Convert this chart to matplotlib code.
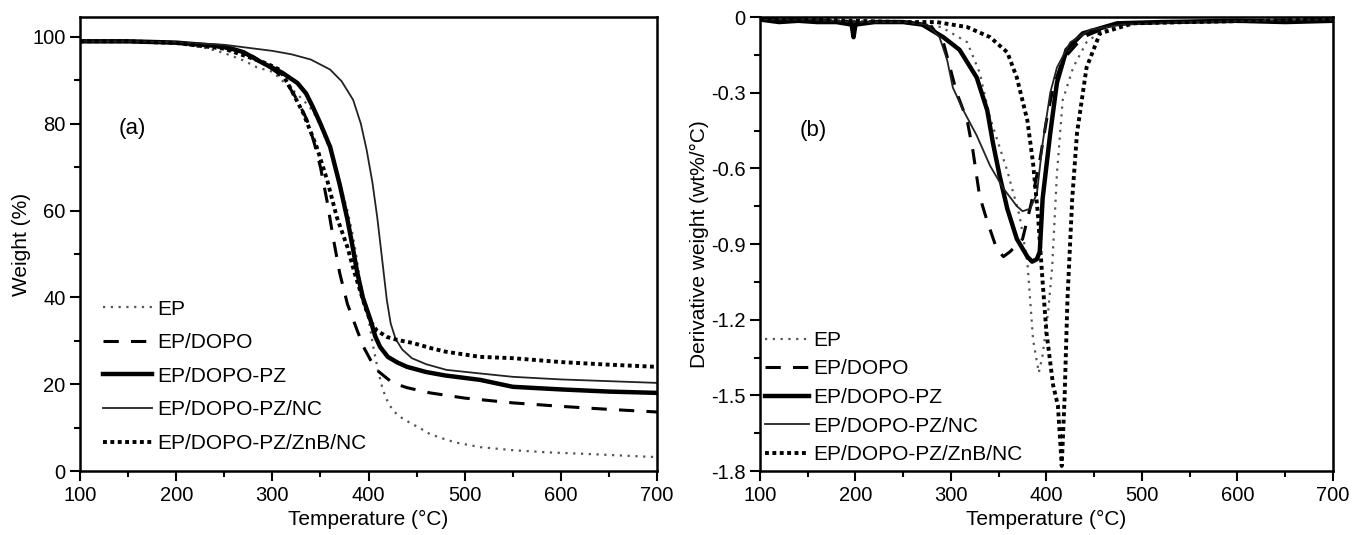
import matplotlib.pyplot as plt
from matplotlib.ticker import MultipleLocator, FixedLocator

plt.rcParams['font.family'] = ['Liberation Sans', 'DejaVu Sans']
plt.rcParams['axes.unicode_minus'] = False

labels = ['EP', 'EP/DOPO', 'EP/DOPO-PZ', 'EP/DOPO-PZ/NC', 'EP/DOPO-PZ/ZnB/NC']

# (a) TGA curves, temperature (C) and weight (%)
ep_t = [100, 150, 200, 230, 250, 270, 284, 300, 310, 321, 332, 342, 350, 360, 367, 373, 378, 383, 387,
        391, 396, 400, 405, 410, 414, 418, 425, 432, 440, 454, 464, 477, 490, 516, 550, 586, 620, 660, 700]
ep_w = [99, 99, 98.5, 97.5, 96.3, 94.6, 93, 92, 90, 87.8, 85.5, 83, 79.5, 74, 68.7, 64, 60, 55, 50,
        44, 39, 35, 28.5, 23, 19.5, 16.8, 14, 12.6, 11.5, 9.8, 8.5, 7.5, 6.6, 5.5, 4.8, 4.3, 4.0, 3.6, 3.2]

dopo_t = [100, 150, 200, 250, 280, 294, 305, 315, 325, 336, 343, 350, 357, 363, 370, 378, 388, 395, 402,
          410, 425, 440, 464, 500, 550, 600, 650, 700]
dopo_w = [99, 99, 98.7, 97.5, 95.5, 93.5, 91.8, 89.4, 85.8, 80.9, 76, 70, 62, 54, 45.6, 38.5, 32.5, 28.5,
          25.6, 23, 20.3, 19.2, 18, 16.8, 15.7, 14.9, 14.2, 13.6]

pz_t = [100, 150, 200, 250, 270, 290, 310, 326, 335, 342, 350, 360, 370, 378, 384, 388, 394, 402, 407,
        412, 420, 430, 440, 460, 480, 516, 550, 600, 650, 700]
pz_w = [99, 99, 98.7, 97.8, 96.5, 94, 91.8, 89.4, 87, 83.9, 80, 74.7, 66, 58, 51, 46, 40, 34.8, 31,
        28.6, 26.3, 25, 24, 22.8, 22, 21, 19.4, 18.8, 18.3, 18]

nc_t = [100, 150, 200, 250, 300, 320, 340, 360, 372, 384, 392, 398, 404, 409, 414, 419, 423, 428, 435,
        445, 460, 481, 515, 550, 600, 650, 700]
nc_w = [99, 99, 98.8, 98.2, 96.8, 96, 94.8, 92.5, 89.8, 85.5, 80, 74, 66.5, 58.5, 49, 39.4, 34, 30.5, 28,
        26, 24.6, 23.3, 22.5, 21.7, 21.1, 20.7, 20.3]

znb_t = [100, 150, 200, 250, 280, 295, 308, 318, 332, 346, 357, 367, 378, 385, 391, 397, 402, 408, 419,
         430, 446, 465, 480, 516, 550, 600, 650, 700]
znb_w = [99, 99, 98.6, 97.3, 95, 93.8, 92.4, 88.5, 82.5, 74.7, 67, 58.5, 51.6, 46, 41.7, 37.5, 34.5, 32.5,
         30.9, 30.2, 29.5, 28.3, 27.5, 26.3, 26, 25.1, 24.5, 24]

# (b) DTG curves, derivative weight (wt%/C)
dep_t = [100, 150, 200, 250, 290, 317, 330, 341, 359, 372, 380, 386, 392, 396, 402, 406, 411, 417,
         428, 442, 456, 480, 520, 600, 700]
dep_d = [-0.01, -0.01, -0.015, -0.02, -0.04, -0.10, -0.22, -0.40, -0.61, -0.79, -0.97, -1.28, -1.41, -1.34,
         -1.16, -0.99, -0.62, -0.33, -0.20, -0.10, -0.06, -0.03, -0.02, -0.015, -0.01]

ddopo_t = [100, 150, 200, 250, 280, 292, 306, 317, 323, 330, 338, 348, 355, 362, 370, 375, 384, 393,
           400, 407, 417, 438, 470, 520, 600, 700]
ddopo_d = [-0.01, -0.01, -0.02, -0.02, -0.04, -0.10, -0.30, -0.41, -0.53, -0.71, -0.81, -0.92, -0.95, -0.93,
           -0.90, -0.88, -0.74, -0.57, -0.41, -0.28, -0.17, -0.08, -0.03, -0.02, -0.015, -0.01]

dpz_t = [100, 120, 140, 160, 180, 196, 198, 200, 220, 250, 270, 292, 309, 327, 338, 344, 351, 359, 369,
         380, 385, 390, 393, 396, 404, 411, 421, 438, 474, 520, 600, 650, 700]
dpz_d = [-0.01, -0.02, -0.015, -0.02, -0.02, -0.03, -0.08, -0.03, -0.02, -0.02, -0.03, -0.08, -0.13, -0.24,
         -0.37, -0.50, -0.63, -0.76, -0.88, -0.95, -0.97, -0.96, -0.93, -0.72, -0.46, -0.26, -0.13, -0.065,
         -0.025, -0.02, -0.015, -0.02, -0.015]

dnc_t = [100, 150, 200, 250, 275, 288, 296, 302, 313, 327, 341, 355, 369, 375, 383, 390, 396, 404, 411,
         425, 446, 480, 550, 700]
dnc_d = [-0.01, -0.01, -0.02, -0.02, -0.03, -0.08, -0.17, -0.28, -0.37, -0.47, -0.59, -0.68, -0.75, -0.77,
         -0.76, -0.70, -0.50, -0.30, -0.20, -0.10, -0.05, -0.03, -0.02, -0.01]

dznb_t = [100, 150, 200, 250, 285, 317, 341, 359, 369, 380, 386, 391, 396, 400, 407, 412, 416, 419, 422,
          427, 432, 442, 456, 491, 550, 620, 700]
dznb_d = [-0.01, -0.01, -0.015, -0.02, -0.02, -0.04, -0.08, -0.14, -0.24, -0.41, -0.58, -0.78, -1.05, -1.25,
          -1.46, -1.54, -1.78, -1.51, -1.12, -0.72, -0.46, -0.20, -0.065, -0.025, -0.02, -0.015, -0.01]

styles = [
    dict(color='#555555', lw=1.6, linestyle=(0, (1, 2.5))),
    dict(color='black', lw=2.2, linestyle=(0, (5, 4))),
    dict(color='black', lw=3.2, linestyle='-'),
    dict(color='#222222', lw=1.3, linestyle='-'),
    dict(color='black', lw=2.8, linestyle=(0, (1, 0.9))),
]

fig = plt.figure(figsize=(13.52, 5.35), dpi=100)
ax1 = fig.add_axes([0.0592, 0.1196, 0.4268, 0.8486])
ax2 = fig.add_axes([0.5621, 0.1196, 0.4238, 0.8486])

tga = [(ep_t, ep_w), (dopo_t, dopo_w), (pz_t, pz_w), (nc_t, nc_w), (znb_t, znb_w)]
dtg = [(dep_t, dep_d), (ddopo_t, ddopo_d), (dpz_t, dpz_d), (dnc_t, dnc_d), (dznb_t, dznb_d)]

for (t, w), st, lab in zip(tga, styles, labels):
    ax1.plot(t, w, label=lab, **st)
for (t, d), st, lab in zip(dtg, styles, labels):
    ax2.plot(t, d, label=lab, **st)

for ax in (ax1, ax2):
    ax.set_xlim(100, 700)
    ax.xaxis.set_major_locator(MultipleLocator(100))
    ax.xaxis.set_minor_locator(MultipleLocator(50))
    ax.tick_params(which='major', direction='out', length=7, width=1.5, labelsize=14.5, top=False, right=False)
    ax.tick_params(which='minor', direction='out', length=4, width=1.5)
    for s in ax.spines.values():
        s.set_linewidth(1.8)
    ax.set_xlabel('Temperature (°C)', fontsize=15, labelpad=4)

ax1.set_ylim(0, 104.6)
ax1.yaxis.set_major_locator(FixedLocator([0, 20, 40, 60, 80, 100]))
ax1.yaxis.set_minor_locator(FixedLocator([10, 30, 50, 70, 90]))
ax1.set_ylabel('Weight (%)', fontsize=15, labelpad=1)
ax1.text(140, 79, '(a)', fontsize=16, va='center')

yt = [0, -0.3, -0.6, -0.9, -1.2, -1.5, -1.8]
ax2.set_ylim(-1.8, 0)
ax2.set_yticks(yt)
ax2.set_yticklabels(['0', '-0.3', '-0.6', '-0.9', '-1.2', '-1.5', '-1.8'])
ax2.yaxis.set_minor_locator(FixedLocator([-0.15, -0.45, -0.75, -1.05, -1.35, -1.65]))
ax2.set_ylabel('Derivative weight (wt%/°C)', fontsize=15, labelpad=1)
ax2.text(142, -0.45, '(b)', fontsize=16, va='center')

ax1.legend(loc='lower left', bbox_to_anchor=(0.04, 0.04), frameon=False, fontsize=15,
           handlelength=2.35, handletextpad=0.25, labelspacing=0.70, borderpad=0, borderaxespad=0)
ax2.legend(loc='lower left', bbox_to_anchor=(0.009, 0.015), frameon=False, fontsize=15,
           handlelength=2.1, handletextpad=0.2, labelspacing=0.46, borderpad=0, borderaxespad=0)

fig.savefig('out.png', dpi=100)
